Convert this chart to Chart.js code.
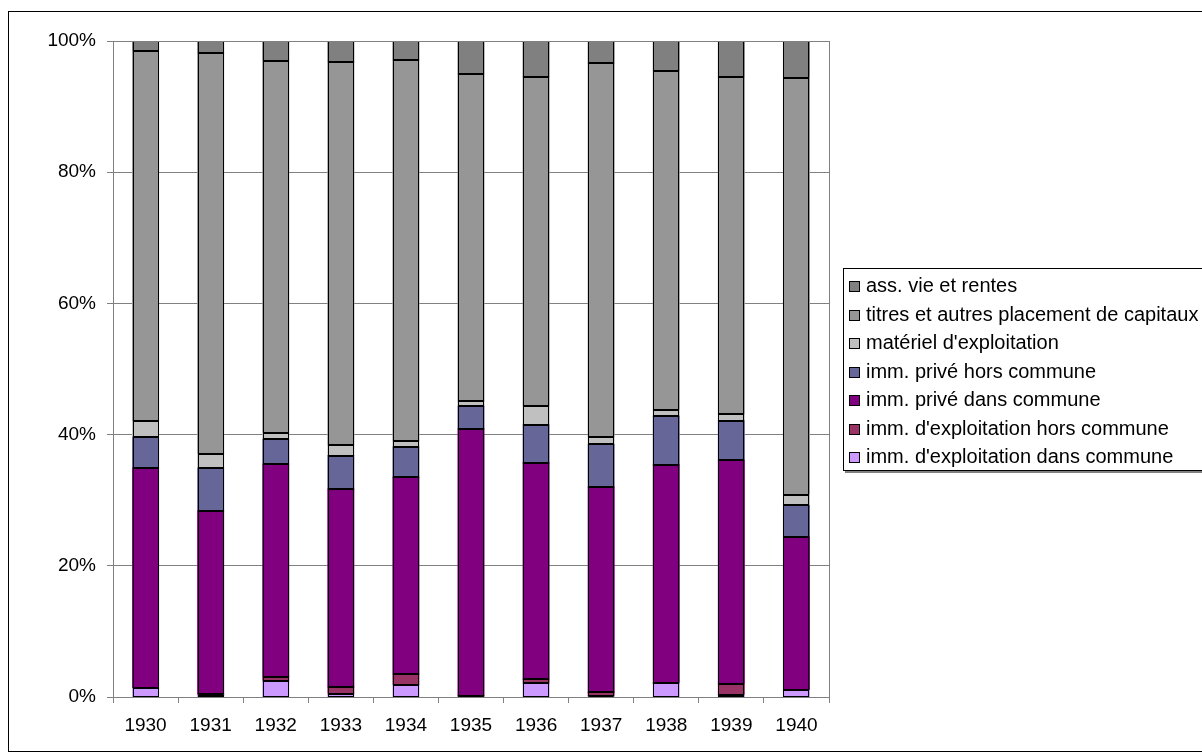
<!DOCTYPE html>
<html>
<head>
<meta charset="utf-8">
<script src="https://cdn.jsdelivr.net/npm/chart.js@4/dist/chart.umd.min.js"></script>
<style>
    html, body { margin: 0; padding: 0; background: #fff; }
    body { width: 1202px; height: 752px; position: relative; overflow: hidden; font-family: "Liberation Sans", Arial, sans-serif; }
    #frame { position: absolute; left: 8px; top: 11px; width: 1400px; height: 739px; border: 1px solid #000; }
    #chartBox { position: absolute; left: 0; top: 0; width: 1202px; height: 752px; }
    #legend { position: absolute; left: 843px; top: 268px; width: 420px; height: 201px; border: 1px solid #000; background: #fff; box-shadow: 2px 2px 0 #808080; }
    #legend .item { position: absolute; left: 5px; height: 24px; line-height: 24px; font-size: 20px; color: #000; white-space: nowrap; }
    #legend .sw { display: inline-block; width: 9px; height: 9px; border: 1px solid #000; margin-right: 6px; vertical-align: 0px; }
</style>
</head>
<body>
<div id="frame"></div>
<div id="chartBox"><canvas id="assetChart" width="1202" height="752"></canvas></div>
<div id="legend"></div>
<script>
// années
const years = ['1930', '1931', '1932', '1933', '1934', '1935', '1936', '1937', '1938', '1939', '1940'];

// parts en %, du bas vers le haut de la pile
const immExplDans  = [1.3, 0.3, 2.4, 0.5, 1.9, 0.1, 2.1, 0.2, 2.1, 0.3, 1.0];
const immExplHors  = [0.0, 0.1, 0.7, 1.0, 1.6, 0.1, 0.6, 0.5, 0.0, 1.7, 0.0];
const immPriveDans = [33.6, 28.0, 32.4, 30.2, 30.0, 40.7, 33.0, 31.3, 33.3, 34.1, 23.4];
const immPriveHors = [4.7, 6.5, 3.8, 5.1, 4.6, 3.4, 5.8, 6.5, 7.4, 6.0, 4.8];
const materiel     = [2.4, 2.2, 1.0, 1.6, 1.0, 0.8, 2.9, 1.2, 1.0, 1.0, 1.6];
const titres       = [56.4, 61.0, 56.7, 58.4, 58.0, 49.9, 50.1, 56.9, 51.7, 51.4, 63.6];
const assVie       = [1.6, 1.9, 3.0, 3.2, 2.9, 5.0, 5.5, 3.4, 4.5, 5.5, 5.6];

const yTicks = [0, 20, 40, 60, 80, 100];

const series = [
    { label: "imm. d'exploitation dans commune", data: immExplDans, color: '#CC99FF' },
    { label: "imm. d'exploitation hors commune", data: immExplHors, color: '#993366' },
    { label: 'imm. privé dans commune', data: immPriveDans, color: '#800080' },
    { label: 'imm. privé hors commune', data: immPriveHors, color: '#666699' },
    { label: "matériel d'exploitation", data: materiel, color: '#C0C0C0' },
    { label: 'titres et autres placement de capitaux', data: titres, color: '#969696' },
    { label: 'ass. vie et rentes', data: assVie, color: '#808080' }
];

// contour noir net de chaque segment + cadre gris de la zone de tracé
const outlines = {
    id: 'outlines',
    afterDatasetsDraw(chart) {
        const ctx = chart.ctx;
        ctx.save();
        ctx.strokeStyle = '#000';
        ctx.lineWidth = 1;
        chart.data.datasets.forEach((ds, i) => {
            chart.getDatasetMeta(i).data.forEach(bar => {
                const p = bar.getProps(['x', 'y', 'base', 'width'], true);
                const l = Math.round(p.x - p.width / 2) + 0.5;
                const r = Math.round(p.x + p.width / 2) - 0.5;
                const t = Math.round(Math.min(p.y, p.base)) + 0.5;
                const b = Math.round(Math.max(p.y, p.base)) - 0.5;
                ctx.strokeRect(l, t, r - l, Math.max(b - t, 0));
            });
        });
        const a = chart.chartArea;
        ctx.strokeStyle = '#808080';
        ctx.strokeRect(Math.round(a.left) + 0.5, Math.round(a.top) + 0.5, Math.round(a.right - a.left), Math.round(a.bottom - a.top));
        ctx.restore();
    }
};

const tickFont = { family: '"Liberation Sans", Arial, sans-serif', size: 19 };

new Chart(document.getElementById('assetChart'), {
    type: 'bar',
    data: {
        labels: years,
        datasets: series.map(s => ({
            label: s.label,
            data: s.data,
            backgroundColor: s.color,
            borderWidth: 0,
            inflateAmount: 0.5,
            categoryPercentage: 1,
            barPercentage: 0.4
        }))
    },
    options: {
        responsive: false,
        animation: false,
        layout: { padding: { top: 41, right: 373, bottom: 0, left: 0 } },
        plugins: {
            legend: { display: false },
            tooltip: { enabled: false }
        },
        scales: {
            x: {
                stacked: true,
                grid: { drawOnChartArea: false, drawTicks: true, tickLength: 6, color: '#808080' },
                border: { color: '#808080' },
                ticks: { color: '#000', font: tickFont, padding: 11, maxRotation: 0 },
                afterFit(scale) { scale.height = 55; }
            },
            y: {
                stacked: true,
                min: 0,
                max: 100,
                grid: { color: '#808080', tickLength: 6 },
                border: { color: '#808080' },
                afterBuildTicks(scale) { scale.ticks = yTicks.map(v => ({ value: v })); },
                ticks: { color: '#000', font: tickFont, padding: 11, callback: v => v + '%' },
                afterFit(scale) { scale.width = 113; }
            }
        }
    },
    plugins: [outlines]
});

// légende, dans l'ordre inverse de la pile
const legend = document.getElementById('legend');
series.slice().reverse().forEach((s, i) => {
    const item = document.createElement('div');
    item.className = 'item';
    item.style.top = (4 + i * 28.5) + 'px';
    const sw = document.createElement('span');
    sw.className = 'sw';
    sw.style.background = s.color;
    item.appendChild(sw);
    item.appendChild(document.createTextNode(s.label));
    legend.appendChild(item);
});
</script>
</body>
</html>
